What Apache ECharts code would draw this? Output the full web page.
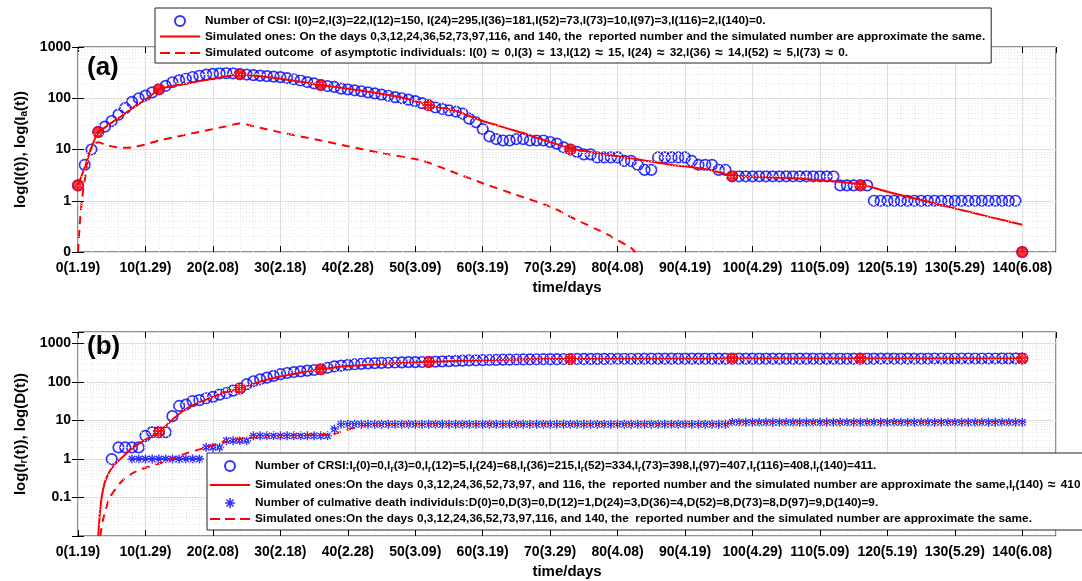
<!DOCTYPE html>
<html><head><meta charset="utf-8">
<script src="https://cdn.jsdelivr.net/npm/echarts@6/dist/echarts.min.js"></script>
<style>html,body{margin:0;padding:0;background:#fff}#c{width:1082px;height:581px}</style>
</head><body><div id="c"></div>
<script>
// ---------- tick labels ----------
const xTickValues = [0,10,20,30,40,50,60,70,80,90,100,110,120,130,140];
const xTickLabels = ['0(1.19)','10(1.29)','20(2.08)','30(2.18)','40(2.28)','50(3.09)','60(3.19)','70(3.29)','80(4.08)','90(4.19)','100(4.29)','110(5.09)','120(5.19)','130(5.29)','140(6.08)'];
const yTicksA = [0.1,1,10,100,1000];
const yTickLabelsA = ['0','1','10','100','1000'];
const yTicksB = [0.1,1,10,100,1000];
const yTickLabelsB = ['0.1','1','10','100','1000'];

// ---------- panel (a): daily number of CSI, day 0..140 ----------
const csiCounts = [
  2,5,10,22,28,36,48,64,85,100,
  113,130,150,175,205,225,240,260,275,290,
  300,305,310,305,295,290,282,276,270,264,
  258,248,235,222,207,195,181,173,166,154,
  149,143,137,130,124,118,112,105,100,94,
  88,80,73,66,62,58,55,50,40,34,
  25,18,16,15,15,16,16,15,15,15,
  14,13,11,10,9,8,8,7,7,7,
  7,6,6,5,4,4,7,7,7,7,
  7,6,5,5,5,4,4,3,3,3,
  3,3,3,3,3,3,3,3,3,3,
  3,3,3,2,2,2,2,2,1,1,
  1,1,1,1,1,1,1,1,1,1,
  1,1,1,1,1,1,1,1,1,1,
  0
];
// simulated I(t)
const simIDays = [0,1,2,3,4,5,6,7,8,9,10,11,12,14,16,18,20,22,24,26,28,30,32,34,36,38,40,44,48,52,56,58,60,62,64,66,68,70,73,76,80,84,88,90,94,97,105,110,116,120,125,130,135,140];
const simIVals = [2,4.5,11,22,27,33.5,41,51,63,77,95,118,150,173,192,216,240,270,295,278,260,240,220,200,181,167,154,128,103,73,57,45,36,30,25,21,17,14,10.6,8.9,7.4,6.1,5.0,4.7,3.9,3.1,2.8,2.5,2.1,1.5,1.03,0.71,0.49,0.34];
// simulated asymptomatic I_a(t)
const simIaDays = [0,0.25,0.6,1.1,1.6,2.3,3,4,5,6,7,8,10,12,14,16,18,20,22,24,27,30,33,36,40,45,51,55,60,65,70,73.5,78.5,82,82.6];
const simIaVals = [0,0.34,1.1,3.1,7.7,12.8,13.8,12.5,11.5,11,10.8,11,12.5,15,17,19.5,22,25,28.5,32,26.5,21.6,18,15,11.6,8.5,6.1,3.9,2.2,1.3,0.77,0.45,0.22,0.12,0];
// reported = simulated days
const reportDaysA = [0,3,12,24,36,52,73,97,116,140];
const reportValsA = [2,22,150,295,181,73,10,3,2,0];

// ---------- panel (b) ----------
const crsiCounts = [
  0,0,0,0,0,1,2,2,2,2,
  4,5,5,5,13,24,26,32,34,38,
  41,47,52,60,68,88,105,118,130,145,
  160,172,182,190,198,206,215,235,255,268,
  280,290,298,305,310,315,318,322,325,328,
  330,332,334,340,345,350,355,360,364,368,
  372,375,378,381,384,386,388,390,392,394,
  395,396,397,398,399,400,401,402,402,403,
  403,404,404,404,405,405,405,405,406,406,
  406,406,406,406,407,407,407,407,407,407,
  407,407,407,407,407,408,408,408,408,408,
  408,408,408,408,408,408,408,408,408,409,
  409,409,409,409,409,409,409,410,410,410,
  410,410,410,410,410,410,410,411,411,411,
  411
];
const deathCounts = [
  0,0,0,0,0,0,0,0,1,1,
  1,1,1,1,1,1,1,1,1,2,
  2,2,3,3,3,3,4,4,4,4,
  4,4,4,4,4,4,4,4,6,8,
  8,8,8,8,8,8,8,8,8,8,
  8,8,8,8,8,8,8,8,8,8,
  8,8,8,8,8,8,8,8,8,8,
  8,8,8,8,8,8,8,8,8,8,
  8,8,8,8,8,8,8,8,8,8,
  8,8,8,8,8,8,8,9,9,9,
  9,9,9,9,9,9,9,9,9,9,
  9,9,9,9,9,9,9,9,9,9,
  9,9,9,9,9,9,9,9,9,9,
  9,9,9,9,9,9,9,9,9,9,
  9
];
const simIrDays = [3,3.2,3.46,3.95,4.7,5.4,6.7,8.1,10,12,14,16,18,20,22,24,26,28,30,32,34,36,38,40,44,48,52,56,60,65,70,73,80,90,97,116,140];
const simIrVals = [0,0.032,0.087,0.24,0.48,0.71,1.17,1.94,3.2,5,10.6,20,30,41,55,68,90,115,140,162,190,215,240,260,290,315,334,355,370,385,395,398,402,405,407,408,410];
const simDDays = [3.3,3.7,4.7,6.7,8.6,10.6,13,16,19,22,25,28,33,36,38,40,42,44,48,60,73,90,96,97,116,140];
const simDVals = [0,0.026,0.1,0.29,0.48,0.64,0.87,1.4,2.0,2.9,3.5,3.9,4.1,4.2,4.5,5.8,7.2,7.8,8,8,8,8,8,9,9,9];
const reportDaysB = [12,24,36,52,73,97,116,140];
const reportValsB = [5,68,215,334,398,407,408,411];

// ---------- legend texts ----------
const AP = '{ap|\u2248}';
const legendText = {
  'CSI': 'Number of CSI: I(0)=2,I(3)=22,I(12)=150, I(24)=295,I(36)=181,I(52)=73,I(73)=10,I(97)=3,I(116)=2,I(140)=0.',
  'simI': 'Simulated ones: On the days 0,3,12,24,36,52,73,97,116, and 140, the  reported number and the simulated number are approximate the same.',
  'simIa': 'Simulated outcome  of asymptotic individuals: I(0)'+AP+'0,I(3)'+AP+'13,I(12)'+AP+'15, I(24)'+AP+'32,I(36)'+AP+'14,I(52)'+AP+'5,I(73)'+AP+'0.',
  'CRSI': 'Number of CRSI:I{s|r}(0)=0,I{s|r}(3)=0,I{s|r}(12)=5,I{s|r}(24)=68,I{s|r}(36)=215,I{s|r}(52)=334,I{s|r}(73)=398,I{s|r}(97)=407,I{s|r}(116)=408,I{s|r}(140)=411.',
  'simIr': 'Simulated ones:On the days 0,3,12,24,36,52,73,97, and 116, the  reported number and the simulated number are approximate the same,I{s|r}(140)'+AP+'410',
  'D': 'Number of culmative death individuls:D(0)=0,D(3)=0,D(12)=1,D(24)=3,D(36)=4,D(52)=8,D(73)=8,D(97)=9,D(140)=9.',
  'simD': 'Simulated ones:On the days 0,3,12,24,36,52,73,97,116, and 140, the  reported number and the simulated number are approximate the same.'
};

// ---------- build ----------
const FONT = '"Liberation Sans", Arial, Helvetica, sans-serif';
const BLUE = '#0000ff', RED = '#ff0000';
const floorA = 0.1, floorB = 0.01;
const daily = (vals, zeroTo) => vals.map((v,i)=>[i, v===0 ? zeroTo : v]).filter(p=>p[1]!==null);
const pairs = (ds, vs, zeroTo) => ds.map((d,i)=>[d, vs[i]===0 ? zeroTo : vs[i]]);
const ASTER = 'path://M-5,-0.8h10v1.6h-10z M-0.8,-5h1.6v10h-1.6z M-2.93,-4.07L4.07,2.93L2.93,4.07L-4.07,-2.93z M-4.07,2.93L2.93,-4.07L4.07,-2.93L-2.93,4.07z';
const ICON_SOLID = 'path://M0,0h40v2.2h-40z';
const ICON_DASH = 'path://M0,0h10v2.2h-10z M15,0h10v2.2h-10z M30,0h10v2.2h-10z';

function minorLevels(e0, e1){ const r=[]; for(let e=e0;e<e1;e++) for(let m=2;m<=9;m++) r.push(+(m*Math.pow(10,e)).toPrecision(6)); return r; }
function tickLabel(ticks, labels){ return v => { for (let i=0;i<ticks.length;i++) if (Math.abs(Math.log10(v)-Math.log10(ticks[i]))<1e-6) return labels[i]; return ''; }; }
const xLabel = v => { const i = xTickValues.indexOf(v); return i>=0 ? xTickLabels[i] : ''; };

const boldTxt = {fontFamily: FONT, fontWeight: 'bold', color: '#000'};
const gridCol = '#dedede', minorCol = '#e4e4e4';

function xAx(g, main){
  return {
    gridIndex: g, type: 'value', min: 0, max: 145, interval: 10, position: main ? 'bottom' : 'top',
    axisLine: {show: false},
    axisTick: {show: true, inside: true, length: 6, lineStyle: {color: '#000'}},
    axisLabel: main ? Object.assign({show: true, formatter: xLabel, fontSize: 14, margin: 9, showMaxLabel: false}, boldTxt) : {show: false},
    splitLine: {show: main, lineStyle: {color: gridCol, width: 1}},
    minorTick: {show: false, splitNumber: 5},
    minorSplitLine: {show: main, lineStyle: {color: minorCol, type: [1,2]}},
    name: main ? 'time/days' : '', nameLocation: 'middle', nameGap: 28,
    nameTextStyle: Object.assign({fontSize: 15}, boldTxt)
  };
}
function yAx(g, main, min, max, ticks, labels, name){
  return {
    gridIndex: g, type: 'log', logBase: 10, min: min, max: max, position: main ? 'left' : 'right',
    axisLine: {show: false},
    axisTick: {show: true, inside: true, length: 6, lineStyle: {color: '#000'}},
    axisLabel: main ? Object.assign({show: true, formatter: tickLabel(ticks, labels), fontSize: 14, margin: 7}, boldTxt) : {show: false},
    splitLine: {show: main, lineStyle: {color: gridCol, width: 1}},
    name: main ? name : '', nameLocation: 'middle', nameGap: 47,
    nameTextStyle: Object.assign({fontSize: 15, rich: {s: {fontSize: 10, fontWeight: 'bold', fontFamily: FONT, padding: [7,0,0,0]}}}, boldTxt)
  };
}
function minorSeries(xi, levels){
  return {type: 'line', xAxisIndex: xi, yAxisIndex: xi, data: [], silent: true, z: 1,
    markLine: {silent: true, symbol: ['none','none'], label: {show: false}, animation: false,
      lineStyle: {color: minorCol, type: [1,2], width: 1}, emphasis: {disabled: true},
      data: levels.map(v => ({yAxis: v}))}};
}
const circleStyle = {color: 'rgba(0,0,0,0)', borderColor: BLUE, borderWidth: 1.7};
const legendCommon = {
  orient: 'vertical', itemWidth: 40, itemHeight: 10, selectedMode: false, z: 20,
  backgroundColor: '#fff', borderColor: '#222', borderWidth: 1,
  formatter: n => legendText[n],
  textStyle: {fontFamily: FONT, fontWeight: 'bold', fontSize: 11.8, color: '#000',
    rich: {
      s: {fontFamily: FONT, fontWeight: 'bold', fontSize: 8.5, padding: [7,0,0,0]},
      ap: {fontFamily: FONT, fontWeight: 'bold', fontSize: 14, lineHeight: 13, padding: [0,5,0,5]}
    }}
};
const lineIcon = (name, dashed) => ({name: name, icon: dashed ? ICON_DASH : ICON_SOLID, itemStyle: {color: RED, borderWidth: 0}});

const option = {
  animation: false,
  backgroundColor: '#fff',
  title: [
    {text: '(a)', left: 82, top: 50, textStyle: Object.assign({fontSize: 26}, boldTxt)},
    {text: '(b)', left: 82, top: 329, textStyle: Object.assign({fontSize: 26}, boldTxt)}
  ],
  grid: [
    {left: 78, top: 47, width: 978, height: 205, show: true, borderColor: '#222', borderWidth: 1, backgroundColor: '#fff'},
    {left: 78, top: 332, width: 978, height: 204, show: true, borderColor: '#222', borderWidth: 1, backgroundColor: '#fff'}
  ],
  legend: [
    Object.assign({data: ['CSI', lineIcon('simI', false), lineIcon('simIa', true)], left: 155, top: 8, padding: [7,6,3,5], itemGap: 3.5}, legendCommon),
    Object.assign({data: ['CRSI', lineIcon('simIr', false), 'D', lineIcon('simD', true)], left: 207, top: 453, padding: [7,6,5,3], itemGap: 4}, legendCommon)
  ],
  xAxis: [xAx(0,true), xAx(1,true), xAx(0,false), xAx(1,false)],
  yAxis: [
    yAx(0,true,0.1,1000,yTicksA,yTickLabelsA,'log(I(t)), log(I{s|a}(t))'),
    yAx(1,true,0.01,2000,yTicksB,yTickLabelsB,'log(I{s|r}(t)), log(D(t))'),
    yAx(0,false,0.1,1000),
    yAx(1,false,0.01,2000)
  ],
  series: [
    minorSeries(0, minorLevels(-1,3)),
    {name: 'CSI', type: 'scatter', xAxisIndex: 0, yAxisIndex: 0, symbol: 'circle', symbolSize: 10.5, itemStyle: circleStyle, z: 2,
      data: daily(csiCounts, floorA)},
    {name: 'simI', type: 'line', xAxisIndex: 0, yAxisIndex: 0, showSymbol: false, symbol: 'none', smooth: 0.2, z: 3,
      lineStyle: {color: RED, width: 2}, itemStyle: {color: RED}, data: pairs(simIDays, simIVals, floorA)},
    {name: 'simIa', type: 'line', xAxisIndex: 0, yAxisIndex: 0, showSymbol: false, symbol: 'none', smooth: 0.2, z: 3,
      lineStyle: {color: RED, width: 2, type: [8,6]}, itemStyle: {color: RED}, data: pairs(simIaDays, simIaVals, floorA)},
    {name: 'dotsA', type: 'scatter', xAxisIndex: 0, yAxisIndex: 0, symbol: 'circle', symbolSize: 12, z: 4,
      itemStyle: {color: RED}, data: pairs(reportDaysA, reportValsA, floorA)},

    minorSeries(1, minorLevels(-2,4).filter(v=>v<2000)),
    {name: 'CRSI', type: 'scatter', xAxisIndex: 1, yAxisIndex: 1, symbol: 'circle', symbolSize: 10.5, itemStyle: circleStyle, z: 2,
      data: daily(crsiCounts, null)},
    {name: 'D', type: 'scatter', xAxisIndex: 1, yAxisIndex: 1, symbol: ASTER, symbolSize: 9, itemStyle: {color: BLUE}, z: 2,
      data: daily(deathCounts, null)},
    {name: 'simIr', type: 'line', xAxisIndex: 1, yAxisIndex: 1, showSymbol: false, symbol: 'none', smooth: 0.2, z: 3,
      lineStyle: {color: RED, width: 2}, itemStyle: {color: RED}, data: pairs(simIrDays, simIrVals, floorB)},
    {name: 'simD', type: 'line', xAxisIndex: 1, yAxisIndex: 1, showSymbol: false, symbol: 'none', smooth: 0.2, z: 3,
      lineStyle: {color: RED, width: 2, type: [8,6]}, itemStyle: {color: RED}, data: pairs(simDDays, simDVals, floorB)},
    {name: 'dotsB', type: 'scatter', xAxisIndex: 1, yAxisIndex: 1, symbol: 'circle', symbolSize: 12, z: 4,
      itemStyle: {color: RED}, data: pairs(reportDaysB, reportValsB, floorB)}
  ]
};
const chart = echarts.init(document.getElementById('c'), null, {renderer: 'canvas'});
chart.setOption(option);
</script></body></html>
